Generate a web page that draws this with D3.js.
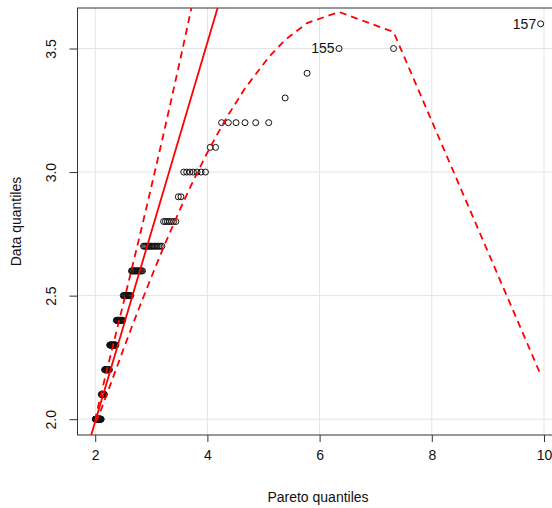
<!DOCTYPE html>
<html>
<head>
<meta charset="utf-8">
<script src="https://cdn.jsdelivr.net/npm/d3@7"></script>
<style>
  body { margin: 0; background: #fff; }
  svg { display: block; font-family: "Liberation Sans", Arial, sans-serif; }
</style>
</head>
<body>
<script>
// theoretical Pareto quantiles (x) and sorted data (y), one entry per observation
var paretoQ = [
  2.002,2.005,2.009,2.013,2.016,2.020,2.024,2.027,2.031,2.035,2.039,2.043,2.047,2.051,2.055,2.059,2.063,2.067,2.071,2.075,2.080,2.084,2.088,2.093,2.097,2.101,2.106,
  2.110,2.115,2.120,2.124,2.129,2.134,2.138,2.143,2.148,2.153,2.158,2.163,
  2.168,2.174,2.179,2.184,2.189,2.195,2.200,2.206,2.211,2.217,2.223,2.229,2.235,2.240,2.246,2.253,
  2.259,2.265,2.271,2.278,2.284,2.291,2.297,2.304,2.311,2.318,2.325,2.332,2.339,2.347,2.354,2.362,2.369,
  2.377,2.385,2.393,2.401,2.410,2.418,2.427,2.435,2.444,2.453,2.462,2.471,2.481,2.491,
  2.500,2.510,2.521,2.531,2.541,2.552,2.563,2.574,2.586,2.597,2.609,2.622,2.634,
  2.647,2.660,2.673,2.686,2.700,2.715,2.729,2.744,2.760,2.775,2.791,2.808,2.825,2.843,
  2.861,2.879,2.899,2.918,2.939,2.960,2.982,3.004,3.028,3.052,3.077,3.103,3.130,3.159,3.188,
  3.219,3.251,3.285,3.320,3.358,3.397,3.438,
  3.482,3.529,
  3.578,3.631,3.688,3.749,3.815,3.887,3.965,
  4.051,4.146,
  4.253,4.373,4.511,4.671,4.861,5.093,
  5.386,5.777,6.346,7.318,9.941
];
var dataQ = [
  2.0,2.0,2.0,2.0,2.0,2.0,2.0,2.0,2.0,2.0,2.0,2.0,2.0,2.0,2.0,2.0,2.0,2.0,2.0,2.0,2.0,2.0,2.0,2.0,2.0,2.0,2.0,
  2.1,2.1,2.1,2.1,2.1,2.1,2.1,2.1,2.1,2.1,2.1,2.1,
  2.2,2.2,2.2,2.2,2.2,2.2,2.2,2.2,2.2,2.2,2.2,2.2,2.2,2.2,2.2,2.2,
  2.3,2.3,2.3,2.3,2.3,2.3,2.3,2.3,2.3,2.3,2.3,2.3,2.3,2.3,2.3,2.3,2.3,
  2.4,2.4,2.4,2.4,2.4,2.4,2.4,2.4,2.4,2.4,2.4,2.4,2.4,2.4,
  2.5,2.5,2.5,2.5,2.5,2.5,2.5,2.5,2.5,2.5,2.5,2.5,2.5,
  2.6,2.6,2.6,2.6,2.6,2.6,2.6,2.6,2.6,2.6,2.6,2.6,2.6,2.6,
  2.7,2.7,2.7,2.7,2.7,2.7,2.7,2.7,2.7,2.7,2.7,2.7,2.7,2.7,2.7,
  2.8,2.8,2.8,2.8,2.8,2.8,2.8,
  2.9,2.9,
  3.0,3.0,3.0,3.0,3.0,3.0,3.0,
  3.1,3.1,
  3.2,3.2,3.2,3.2,3.2,3.2,
  3.3,3.4,3.5,3.5,3.6
];

// reference line and pointwise confidence envelope
var lineIntercept = 0.4555, lineSlope = 0.7673;
var envX     = [2.002,2.016,2.035,2.075,2.120,2.195,2.284,2.393,2.531,2.647,2.791,2.939,3.077,3.188,3.285,3.438,3.529,3.631,3.749,3.965,4.146,4.373,4.671,5.093,5.386,5.777,6.346,7.318,9.941];
var envUpper = [1.995,2.014,2.034,2.074,2.116,2.186,2.268,2.368,2.496,2.604,2.739,2.881,3.015,3.124,3.221,3.376,3.469,3.575,3.700,3.932,4.132,4.390,4.740,5.262,5.642,6.174,7.001,8.575,13.99];
var envLower = [1.988,1.991,2.000,2.021,2.048,2.093,2.148,2.215,2.300,2.370,2.455,2.540,2.618,2.679,2.731,2.811,2.857,2.908,2.965,3.064,3.141,3.232,3.339,3.465,3.535,3.603,3.648,3.567,2.180];

// labelled observations: rank in sorted data -> observation id
var labelRank = [155, 157];
var labelText = ["155", "157"];

var xTicks = [2, 4, 6, 8, 10];
var yTicks = [2.0, 2.5, 3.0, 3.5];

var width = 552, height = 508;
var plotL = 77.5, plotR = 558.5, plotT = 8, plotB = 435;

var svg = d3.select("body").append("svg")
    .attr("width", width)
    .attr("height", height);

var x = d3.scaleLinear().domain([1.6844, 10.2586]).range([plotL, plotR]);
var y = d3.scaleLinear().domain([1.936, 3.664]).range([plotB, plotT]);

svg.append("clipPath").attr("id", "plotclip")
  .append("rect")
    .attr("x", plotL).attr("y", plotT)
    .attr("width", plotR - plotL).attr("height", plotB - plotT);

// grid
var grid = svg.append("g").attr("stroke", "#e3e3e3").attr("stroke-width", 1);
grid.selectAll(".gx").data(xTicks).enter().append("line")
    .attr("x1", function(d) { return x(d); }).attr("x2", function(d) { return x(d); })
    .attr("y1", plotT).attr("y2", plotB);
grid.selectAll(".gy").data(yTicks).enter().append("line")
    .attr("y1", function(d) { return y(d); }).attr("y2", function(d) { return y(d); })
    .attr("x1", plotL).attr("x2", plotR);

// axes
var xAxis = svg.append("g")
    .attr("transform", "translate(0," + plotB + ")")
    .call(d3.axisBottom(x).tickValues(xTicks).tickSize(7).tickPadding(8).tickFormat(d3.format("d")));
var yAxis = svg.append("g")
    .attr("transform", "translate(" + plotL + ",0)")
    .call(d3.axisLeft(y).tickValues(yTicks).tickSize(8).tickFormat(d3.format(".1f")));

[xAxis, yAxis].forEach(function(a) {
  a.select(".domain").remove();
  a.selectAll(".tick line").attr("stroke", "#333");
  a.selectAll("text").attr("fill", "#111").style("font-size", "14px")
    .style("font-family", "'Liberation Sans', Arial, sans-serif");
});
yAxis.selectAll(".tick text")
    .attr("x", null).attr("dy", null)
    .attr("text-anchor", "middle")
    .attr("transform", "translate(-21.5,0) rotate(-90)");

// box
svg.append("rect")
    .attr("x", plotL).attr("y", plotT)
    .attr("width", plotR - plotL).attr("height", plotB - plotT)
    .attr("fill", "none").attr("stroke", "#333").attr("stroke-width", 1);

var plot = svg.append("g").attr("clip-path", "url(#plotclip)");

// points
plot.selectAll("circle").data(paretoQ).enter().append("circle")
    .attr("cx", function(d) { return x(d); })
    .attr("cy", function(d, i) { return y(dataQ[i]); })
    .attr("r", 3)
    .attr("fill", "none")
    .attr("stroke", "#111")
    .attr("stroke-width", 1);

// fitted line
plot.append("line")
    .attr("x1", x(1.6844)).attr("y1", y(lineIntercept + lineSlope * 1.6844))
    .attr("x2", x(10.2586)).attr("y2", y(lineIntercept + lineSlope * 10.2586))
    .attr("stroke", "#ff0000").attr("stroke-width", 1.8);

// envelope
var bandLine = d3.line().x(function(d, i) { return x(envX[i]); }).y(function(d) { return y(d); });
[envUpper, envLower].forEach(function(band) {
  plot.append("path")
      .attr("d", bandLine(band))
      .attr("fill", "none")
      .attr("stroke", "#ff0000")
      .attr("stroke-width", 1.8)
      .attr("stroke-dasharray", "7,5");
});

// labels for extreme points
svg.selectAll(".lab").data(labelRank).enter().append("text")
    .attr("x", function(d) { return x(paretoQ[d - 1]) - 4.5; })
    .attr("y", function(d) { return y(dataQ[d - 1]); })
    .attr("dy", "0.35em")
    .attr("text-anchor", "end")
    .style("font-size", "14px")
    .attr("fill", "#111")
    .text(function(d, i) { return labelText[i]; });

// axis titles
svg.append("text")
    .attr("x", (plotL + plotR) / 2).attr("y", 502)
    .attr("text-anchor", "middle")
    .style("font-size", "14px").attr("fill", "#111")
    .text("Pareto quantiles");
svg.append("text")
    .attr("transform", "translate(20.5," + ((plotT + plotB) / 2) + ") rotate(-90)")
    .attr("text-anchor", "middle")
    .style("font-size", "14px").attr("fill", "#111")
    .text("Data quantiles");
</script>
</body>
</html>
